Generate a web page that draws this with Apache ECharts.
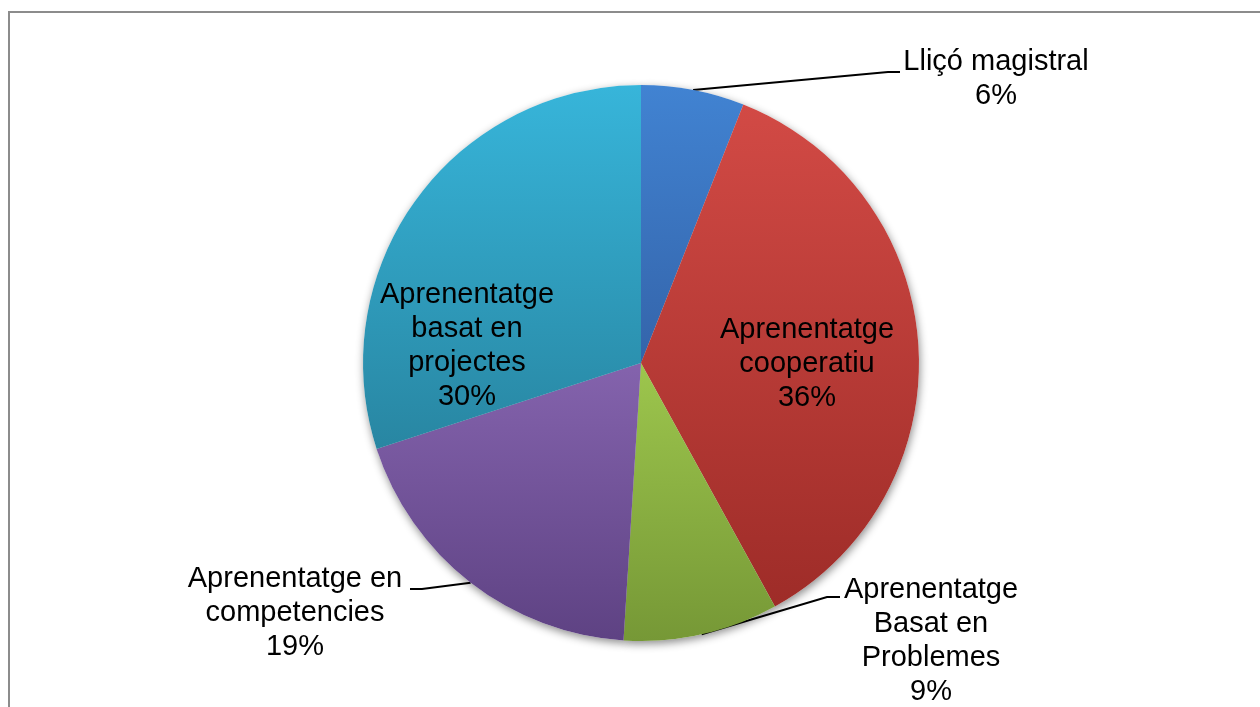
<!DOCTYPE html>
<html>
<head>
<meta charset="utf-8">
<script src="https://cdn.jsdelivr.net/npm/echarts@6/dist/echarts.min.js"></script>
<style>
  html, body { margin: 0; padding: 0; background: #fff; }
  #chart { width: 1260px; height: 707px; }
</style>
</head>
<body>
<div id="chart"></div>
<script>
// categories (label text, wrapped like the original)
const categories = [
  "Lliçó magistral",
  "Aprenentatge\ncooperatiu",
  "Aprenentatge\nBasat en\nProblemes",
  "Aprenentatge en\ncompetencies",
  "Aprenentatge\nbasat en\nprojectes",
];
// percentages
const values = [6, 36, 9, 19, 30];
// top / bottom gradient colours of each slice
const topColors = ["#4183d2", "#d24a45", "#9dc64d", "#8463ad", "#37b5da"];
const bottomColors = ["#3464aa", "#9e2c28", "#769836", "#5e4283", "#2886a2"];
const insideLabel = [false, true, false, false, true];

// label centres and leader line elbows (layout only)
const labelPos = [
  { x: 996, y: 79, line: [[888, 72], [900, 72]] },
  { x: 807, y: 364 },
  { x: 931, y: 641, line: [[827, 597], [840, 597]] },
  { x: 295, y: 613, line: [[422, 589], [410, 589]] },
  { x: 467, y: 346 },
];

const chart = echarts.init(document.getElementById("chart"));

const pieData = categories.map((name, i) => ({
  name: name,
  value: values[i],
  itemStyle: {
    color: {
      type: "linear",
      x: 0, y: 0, x2: 0, y2: 1,
      colorStops: [
        { offset: 0, color: topColors[i] },
        { offset: 1, color: bottomColors[i] },
      ],
    },
  },
  label: { position: insideLabel[i] ? "inside" : "outside" },
  labelLine: { show: !insideLabel[i] },
}));

chart.setOption({
  animation: false,
  graphic: [
    {
      type: "rect",
      shape: { x: 9, y: 12, width: 1400, height: 900 },
      style: { fill: null, stroke: "#8c8c8c", lineWidth: 2 },
      silent: true,
      z: -10,
    },
  ],
  series: [
    {
      // shadow under the pie
      type: "pie",
      center: [641, 363],
      radius: 278,
      startAngle: 90,
      silent: true,
      z: 1,
      label: { show: false },
      labelLine: { show: false },
      itemStyle: {
        color: "#fff",
        shadowBlur: 8,
        shadowOffsetX: 1,
        shadowOffsetY: 3,
        shadowColor: "rgba(0,0,0,0.45)",
      },
      data: values.map((v, i) => ({ name: "s" + i, value: v })),
    },
    {
      type: "pie",
      center: [641, 363],
      radius: 278,
      startAngle: 90,
      z: 2,
      itemStyle: { borderWidth: 0 },
      label: {
        show: true,
        formatter: "{b}\n{c}%",
        color: "#000",
        fontFamily: "Liberation Sans, Arial, sans-serif",
        fontSize: 29,
        lineHeight: 34,
        align: "center",
      },
      labelLine: {
        lineStyle: { color: "#000", width: 2 },
      },
      labelLayout: function (params) {
        const p = labelPos[params.dataIndex];
        const out = { x: p.x, y: p.y, align: "center", verticalAlign: "middle" };
        if (p.line && params.labelLinePoints) {
          out.labelLinePoints = [params.labelLinePoints[0], p.line[0], p.line[1]];
        }
        return out;
      },
      data: pieData,
    },
  ],
});
</script>
</body>
</html>
